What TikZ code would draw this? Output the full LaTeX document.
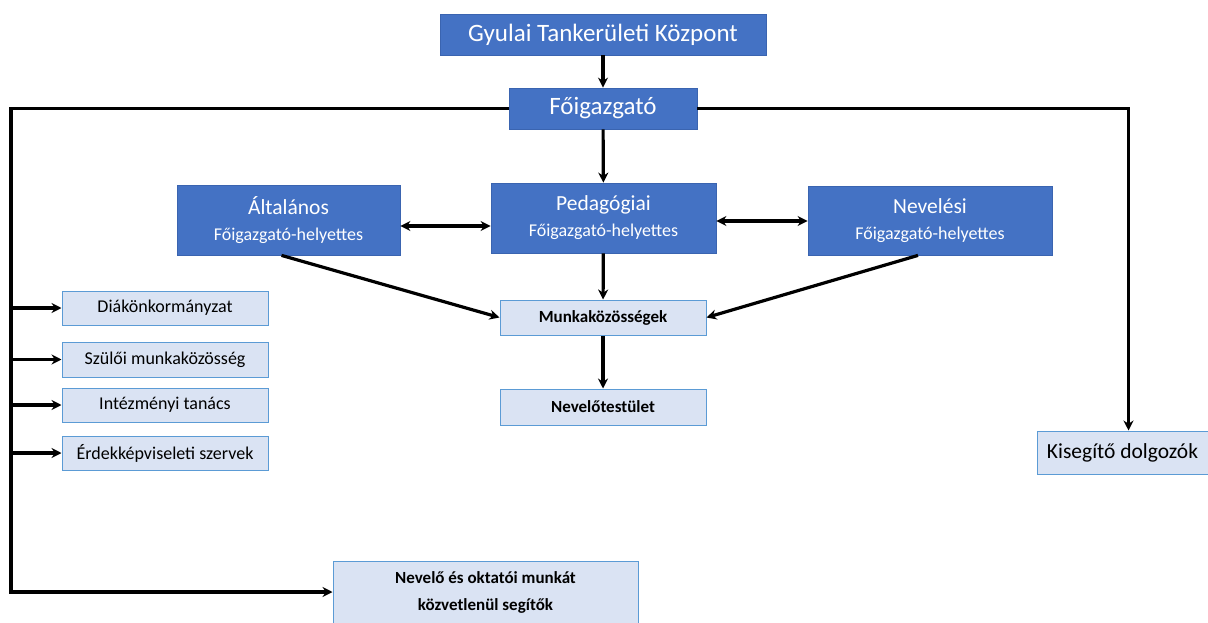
\documentclass[tikz,border=0pt]{standalone}
\usepackage{fontspec}
\setmainfont{Carlito}
\usetikzlibrary{arrows.meta}
\definecolor{boxBlue}{HTML}{4472C4}
\definecolor{boxBlueEdge}{HTML}{3A64B0}
\definecolor{boxLight}{HTML}{DAE3F3}
\definecolor{boxLightEdge}{HTML}{5B9BD5}

\tikzset{
  darkbox/.style={draw=boxBlueEdge, fill=boxBlue, text=white, line width=0.8pt, align=center, inner sep=0pt},
  lightbox/.style={draw=boxLightEdge, fill=boxLight, text=black, line width=1pt, align=center, inner sep=0pt},
  link/.style={line width=3.2pt, black},
}

\begin{document}
\begin{tikzpicture}[x=1pt, y=-1pt, >={Stealth[length=10pt,width=10pt]}]
            \useasboundingbox (0,0) rectangle (1208,623);
            % felső szint
            \node[darkbox, minimum width=326pt, minimum height=41pt, font=\fontsize{25}{28}\selectfont] (kozpont) at (603,34.5) {Gyulai Tankerületi Központ};
            \node[darkbox, minimum width=188pt, minimum height=41pt, font=\fontsize{25}{28}\selectfont] (foig) at (603,108.5) {Főigazgató};
            % helyettesek
            \node[darkbox, minimum width=223pt, minimum height=70pt, font=\fontsize{18}{26}\selectfont] (altalanos) at (288.5,220) {{\fontsize{21.5}{26}\selectfont Általános}\\Főigazgató-helyettes};
            \node[darkbox, minimum width=225pt, minimum height=70pt, font=\fontsize{18}{26}\selectfont] (pedag) at (603.5,218) {{\fontsize{21.5}{26}\selectfont Pedagógiai}\\Főigazgató-helyettes};
            \node[darkbox, minimum width=244pt, minimum height=69pt, font=\fontsize{18}{26}\selectfont] (nevelesi) at (930,220.5) {{\fontsize{21.5}{26}\selectfont Nevelési}\\Főigazgató-helyettes};
            % középső oszlop
            \node[lightbox, minimum width=206pt, minimum height=35pt, font=\fontsize{17}{20}\selectfont\bfseries] (munka) at (603,317.5) {Munkaközösségek};
            \node[lightbox, minimum width=206pt, minimum height=36pt, font=\fontsize{17}{20}\selectfont\bfseries] (testulet) at (603,407) {Nevelőtestület};
            % bal oldali testületek
            \node[lightbox, minimum width=206pt, minimum height=34pt, font=\fontsize{18}{20}\selectfont] (diak) at (165,308) {Diákönkormányzat};
            \node[lightbox, minimum width=206pt, minimum height=35pt, font=\fontsize{18}{20}\selectfont] (szuloi) at (165,359.5) {Szülői munkaközösség};
            \node[lightbox, minimum width=206pt, minimum height=34pt, font=\fontsize{18}{20}\selectfont] (intez) at (165,405) {Intézményi tanács};
            \node[lightbox, minimum width=206pt, minimum height=34pt, font=\fontsize{18}{20}\selectfont] (erdek) at (165,453) {Érdekképviseleti szervek};
            \node[lightbox, minimum width=305pt, minimum height=62pt, font=\fontsize{17}{27}\selectfont\bfseries] (segito) at (485.5,592) {Nevelő és oktatói munkát\\közvetlenül segítők};
            \node[lightbox, minimum width=171pt, minimum height=43pt, font=\fontsize{21.5}{24}\selectfont] (kisegito) at (1122.5,452.5) {Kisegítő dolgozók};
            \coordinate (bal) at (11,592);
            % kapcsolatok
            \draw[link, ->] (kozpont) -- (foig);
            \draw[link, ->] (foig) -- (pedag);
            \draw[link, <->] ([yshift=-6pt]altalanos.east) -- ([yshift=-6pt]altalanos.east -| pedag.west);
            \draw[link, <->] ([yshift=-3pt]pedag.east) -- ([yshift=-3pt]pedag.east -| nevelesi.west);
            \draw[link, ->] (pedag) -- (munka);
            \draw[link, ->] (munka) -- (testulet);
            \draw[link, ->] ([xshift=-7pt]altalanos.south) -- (munka.west);
            \draw[link, ->] ([xshift=-12pt]nevelesi.south) -- (munka.east);
            \draw[link, ->] (foig.west) -| (bal) -- (segito.west);
            \foreach \n in {diak,szuloi,intez,erdek}
              \draw[link, ->] (bal |- \n.west) -- (\n.west);
            \draw[link, ->] (foig.east) -| ([xshift=6pt]kisegito.north);
        \end{tikzpicture}
\end{document}
